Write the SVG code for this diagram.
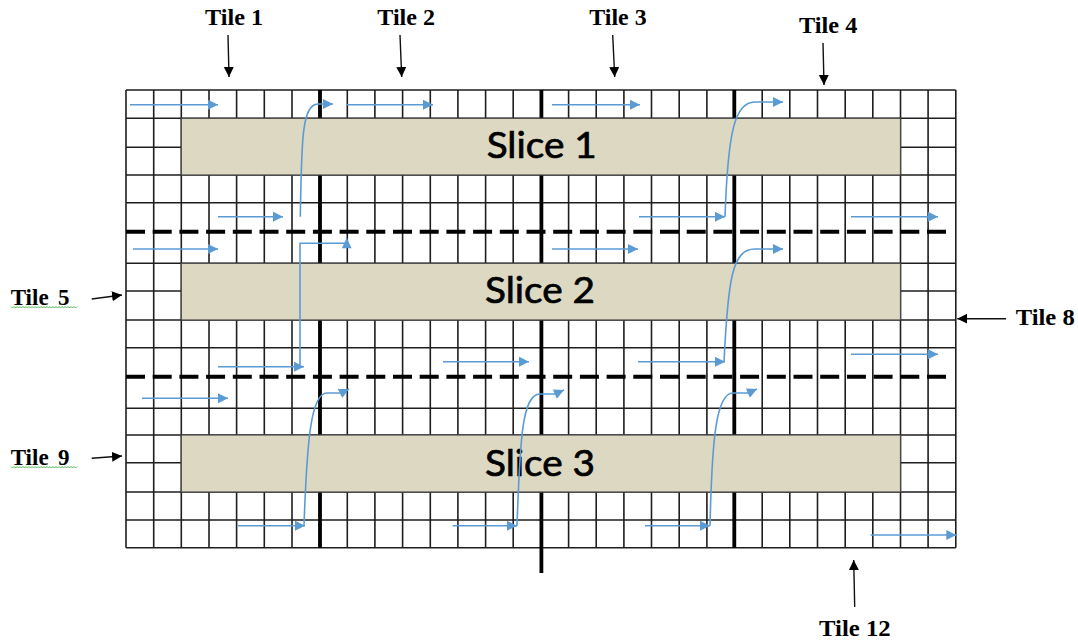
<svg xmlns="http://www.w3.org/2000/svg" width="1078" height="640" viewBox="0 0 1078 640">
  <style>
    .grid { fill: none; stroke: #1e1e1e; stroke-width: 1.6; }
    .thick { fill: none; stroke: #000; stroke-width: 3.8; }
    .dash { fill: none; stroke: #000; stroke-width: 4; stroke-dasharray: 19 7.7; }
    .slice { fill: #dcd8c2; stroke: #4a4a4a; stroke-width: 1.2; }
    .slice-label { font-family: "Lato", "Open Sans", "Liberation Sans", sans-serif; font-size: 37px; fill: #000; stroke: #000; stroke-width: 0.7; }
    .tile-label { font-family: "Liberation Serif", "DejaVu Serif", serif; font-weight: bold; font-size: 23px; fill: #000; }
    .flow { fill: none; stroke: #5b9bd5; stroke-width: 1.6; marker-end: url(#blue-head); }
    .pointer { fill: none; stroke: #111; stroke-width: 1.4; marker-end: url(#black-head); }
    .squiggle { fill: none; stroke: #3fae3f; stroke-width: 0.9; }
  </style>
  <defs>
    <marker id="blue-head" viewBox="0 0 10 10" refX="10" refY="5" markerWidth="11" markerHeight="10" markerUnits="userSpaceOnUse" orient="auto">
      <path d="M0,0 L10,5 L0,10 Z" fill="#5b9bd5"/>
    </marker>
    <marker id="black-head" viewBox="0 0 10 10" refX="10" refY="5" markerWidth="10" markerHeight="11" markerUnits="userSpaceOnUse" orient="auto">
      <path d="M0,0 L10,5 L0,10 Z" fill="#000"/>
    </marker>
  </defs>

  <rect width="1078" height="640" fill="#fff"/>

  <!-- cell grid: 30 columns x 16 rows -->
  <g id="grid">
    <path class="grid" d="M126,90V547.7 M153.7,90V547.7 M181.3,90V547.7 M209,90V547.7 M236.6,90V547.7 M264.3,90V547.7 M292,90V547.7 M319.6,90V547.7 M347.3,90V547.7 M374.9,90V547.7 M402.6,90V547.7 M430.3,90V547.7 M457.9,90V547.7 M485.6,90V547.7 M513.2,90V547.7 M540.9,90V547.7 M568.6,90V547.7 M596.2,90V547.7 M623.9,90V547.7 M651.5,90V547.7 M679.2,90V547.7 M706.9,90V547.7 M734.5,90V547.7 M762.2,90V547.7 M789.8,90V547.7 M817.5,90V547.7 M845.2,90V547.7 M872.8,90V547.7 M900.5,90V547.7 M928.1,90V547.7 M955.8,90V547.7"/>
    <path class="grid" d="M126,90H955.8 M126,118.3H955.8 M126,147.3H955.8 M126,175H955.8 M126,202.7H955.8 M126,263.3H955.8 M126,291H955.8 M126,320H955.8 M126,347.7H955.8 M126,408.3H955.8 M126,435H955.8 M126,462.7H955.8 M126,492H955.8 M126,520H955.8 M126,547.7H955.8"/>
    <!-- tile column boundaries -->
    <path class="thick" d="M320,90V547.7 M541.4,90V573 M734.3,90V547.7"/>
    <!-- slice boundaries -->
    <path class="dash" d="M126,231.7H952 M126,376.7H952"/>
  </g>

  <g id="slice-1">
    <rect class="slice" x="181.3" y="118.3" width="719.2" height="56.7"/>
    <text class="slice-label" x="486.7" y="158.3" textLength="110" lengthAdjust="spacingAndGlyphs">Slice 1</text>
  </g>
  <g id="slice-2">
    <rect class="slice" x="181.3" y="263.3" width="719.2" height="56.7"/>
    <text class="slice-label" x="485" y="303.3" textLength="110" lengthAdjust="spacingAndGlyphs">Slice 2</text>
  </g>
  <g id="slice-3">
    <rect class="slice" x="181.3" y="435" width="719.2" height="57"/>
    <text class="slice-label" x="485" y="475.5" textLength="110" lengthAdjust="spacingAndGlyphs">Slice 3</text>
  </g>

  <!-- tile captions -->
  <g id="tile-1"><text class="tile-label" x="205" y="25" textLength="58" lengthAdjust="spacingAndGlyphs">Tile 1</text></g>
  <g id="tile-2"><text class="tile-label" x="377.3" y="25" textLength="57.7" lengthAdjust="spacingAndGlyphs">Tile 2</text></g>
  <g id="tile-3"><text class="tile-label" x="589.3" y="25" textLength="57.3" lengthAdjust="spacingAndGlyphs">Tile 3</text></g>
  <g id="tile-4"><text class="tile-label" x="799" y="33" textLength="58.3" lengthAdjust="spacingAndGlyphs">Tile 4</text></g>
  <g id="tile-5">
    <text class="tile-label" x="10.7" y="305">Tile <tspan x="58">5</tspan></text>
    <path class="squiggle" d="M11,306.5 l1.5,1.5 l1.5,-1.5 l1.5,1.5 l1.5,-1.5 l1.5,1.5 l1.5,-1.5 l1.5,1.5 l1.5,-1.5 l1.5,1.5 l1.5,-1.5 l1.5,1.5 l1.5,-1.5 l1.5,1.5 l1.5,-1.5 l1.5,1.5 l1.5,-1.5 l1.5,1.5 l1.5,-1.5 l1.5,1.5 l1.5,-1.5 l1.5,1.5 l1.5,-1.5 l1.5,1.5 l1.5,-1.5 l1.5,1.5 l1.5,-1.5 l1.5,1.5 l1.5,-1.5 l1.5,1.5 l1.5,-1.5 l1.5,1.5 l1.5,-1.5 l1.5,1.5 l1.5,-1.5 l1.5,1.5 l1.5,-1.5 l1.5,1.5 l1.5,-1.5 l1.5,1.5 l1.5,-1.5 l1.5,1.5 l1.5,-1.5 l1.5,1.5 l1.5,-1.5"/>
  </g>
  <g id="tile-8"><text class="tile-label" x="1015.7" y="325" textLength="59" lengthAdjust="spacingAndGlyphs">Tile 8</text></g>
  <g id="tile-9">
    <text class="tile-label" x="10.7" y="465">Tile <tspan x="58">9</tspan></text>
    <path class="squiggle" d="M11,466.5 l1.5,1.5 l1.5,-1.5 l1.5,1.5 l1.5,-1.5 l1.5,1.5 l1.5,-1.5 l1.5,1.5 l1.5,-1.5 l1.5,1.5 l1.5,-1.5 l1.5,1.5 l1.5,-1.5 l1.5,1.5 l1.5,-1.5 l1.5,1.5 l1.5,-1.5 l1.5,1.5 l1.5,-1.5 l1.5,1.5 l1.5,-1.5 l1.5,1.5 l1.5,-1.5 l1.5,1.5 l1.5,-1.5 l1.5,1.5 l1.5,-1.5 l1.5,1.5 l1.5,-1.5 l1.5,1.5 l1.5,-1.5 l1.5,1.5 l1.5,-1.5 l1.5,1.5 l1.5,-1.5 l1.5,1.5 l1.5,-1.5 l1.5,1.5 l1.5,-1.5 l1.5,1.5 l1.5,-1.5 l1.5,1.5 l1.5,-1.5 l1.5,1.5 l1.5,-1.5"/>
  </g>
  <g id="tile-12"><text class="tile-label" x="819" y="635.5" textLength="71.7" lengthAdjust="spacingAndGlyphs">Tile 12</text></g>

  <g id="connectors">
    <!-- caption pointers -->
    <path class="pointer" d="M228,35 L229,77"/>
    <path class="pointer" d="M400,35 L401.7,77"/>
    <path class="pointer" d="M612.7,35 L614.7,77"/>
    <path class="pointer" d="M823,43 L824,85"/>
    <path class="pointer" d="M91.7,299 L122,295"/>
    <path class="pointer" d="M1006,318.7 L957.3,318.7"/>
    <path class="pointer" d="M91.7,458.3 L122,456"/>
    <path class="pointer" d="M854.7,607 L853.7,560"/>

    <!-- scan order inside slice 1 -->
    <path class="flow" d="M130,104.7 H218"/>
    <path class="flow" d="M300.3,216.7 C301.5,140 302,104 318,104 H333"/>
    <path class="flow" d="M347,104.7 H433"/>
    <path class="flow" d="M552,104.7 H640"/>
    <path class="flow" d="M725,216.7 C728,130 735,102 755,102 H783"/>
    <path class="flow" d="M218,216.7 H283"/>
    <path class="flow" d="M639,216.7 H725"/>
    <path class="flow" d="M851,216.7 H938"/>

    <!-- scan order inside slice 2 -->
    <path class="flow" d="M133,249 H218"/>
    <path class="flow" d="M218,366.7 H304"/>
    <path class="flow" d="M300,366.7 V243.3 H346.7 V238.3"/>
    <path class="flow" d="M552,249 H638"/>
    <path class="flow" d="M443,361.7 H529"/>
    <path class="flow" d="M638,361.7 H725"/>
    <path class="flow" d="M724,361.7 C728,280 732,249 755,249 H783"/>
    <path class="flow" d="M851,354.3 H938"/>

    <!-- scan order inside slice 3 -->
    <path class="flow" d="M142,398.3 H228"/>
    <path class="flow" d="M237.7,525.7 H305"/>
    <path class="flow" d="M304,525.7 C307,440 311,393 327,393 H341 L349,389"/>
    <path class="flow" d="M452.7,525.7 H517"/>
    <path class="flow" d="M517,525.7 C520,440 522,394 540,394 H555 L564,390"/>
    <path class="flow" d="M645,525.7 H710"/>
    <path class="flow" d="M710,525.7 C712,440 716,393 733,393 H748 L757,389"/>
    <path class="flow" d="M870.7,535 H956.3"/>
  </g>
</svg>
